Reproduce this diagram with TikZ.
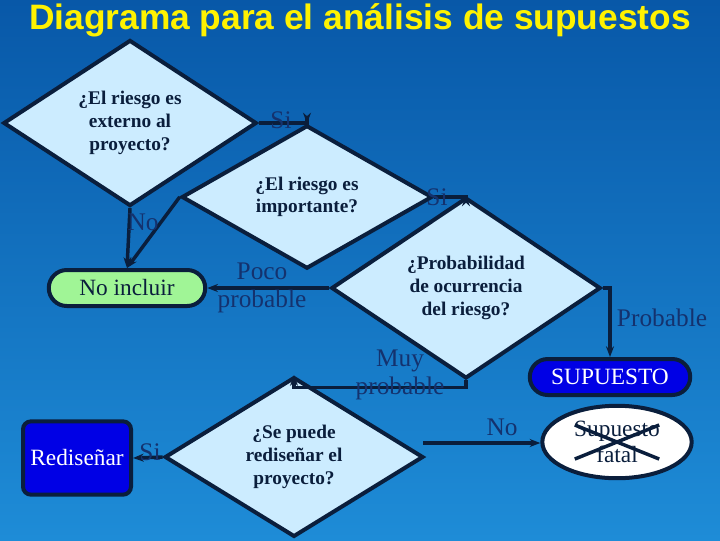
\documentclass[tikz,border=0pt]{standalone}
\usepackage{fontspec}
\setmainfont{Liberation Serif}
\newfontfamily\titlefont{Liberation Sans}
\usetikzlibrary{shapes.geometric,shapes.misc,positioning,calc,arrows.meta}
\definecolor{bgtop}{RGB}{8,88,168}
\definecolor{bgbot}{RGB}{30,140,215}
\definecolor{boxfill}{RGB}{204,236,255}
\definecolor{lbl}{RGB}{20,50,110}
\definecolor{navy}{RGB}{10,30,60}
\definecolor{greenfill}{RGB}{160,245,150}
\tikzset{
  ask/.style={diamond, draw=navy, line width=3pt, fill=boxfill, inner sep=0pt,
    align=center, font=\bfseries\fontsize{14.5}{17}\selectfont, text=navy},
  endnode/.style={rounded rectangle, draw=navy, line width=3pt, minimum height=27pt,
    font=\fontsize{17.5}{19}\selectfont},
  lab/.style={text=lbl, font=\fontsize{19}{21}\selectfont, align=center},
  conn/.style={draw=navy, line width=2.6pt, -{Stealth[length=8pt]}}
}
\begin{document}
\begin{tikzpicture}[x=0.75pt,y=-0.75pt]
\shade[top color=bgtop, bottom color=bgbot] (0,0) rectangle (720,540);
\useasboundingbox (0,0) rectangle (720,540);

\node[text=yellow, font=\titlefont\bfseries\fontsize{26.5}{28}\selectfont] (title) at (360,20)
  {Diagrama para el análisis de supuestos};

% preguntas
\node[ask, minimum width=190pt, minimum height=116pt] (ext) at (130,123)
  {¿El riesgo es\\externo al\\proyecto?};
\node[ask, minimum width=188pt, minimum height=80pt] (imp) at (307,197)
  {¿El riesgo es\\importante?};
\node[ask, minimum width=202pt, minimum height=118pt] (prob) at (466,288)
  {¿Probabilidad\\de ocurrencia\\del riesgo?};
\node[ask, minimum width=194pt, minimum height=115pt] (red) at (294,457)
  {¿Se puede\\rediseñar el\\proyecto?};

% resultados
\node[endnode, fill=greenfill, minimum width=124pt, text=navy] (noinc) at (127,288) {No incluir};
\node[endnode, fill=blue!90!black, minimum width=127pt, text=white] (sup) at (610,377) {SUPUESTO};
\node[draw=navy, line width=3pt, fill=blue!90!black, rounded corners=6pt, minimum width=81pt,
  minimum height=55pt, text=white, font=\fontsize{17.5}{19}\selectfont] (redis) at (77,458) {Rediseñar};
\node[ellipse, draw=navy, line width=3pt, fill=white, minimum width=112pt, minimum height=49pt,
  align=center, text=navy, font=\fontsize{17.5}{20}\selectfont] (fatal) at (617,442) {Supuesto\\fatal};
\draw[navy, line width=2.6pt] ($(fatal.north west)+(12,10)$) -- ($(fatal.south east)+(-12,-10)$);
\draw[navy, line width=2.6pt] ($(fatal.north east)+(-12,10)$) -- ($(fatal.south west)+(12,-10)$);

% conectores
\draw[conn] (ext.east) -| (imp.north);
\draw[conn] (imp.east) -| (prob.north);
\draw[conn] (ext.south) -- (noinc.north);
\draw[conn] (imp.west) -- (noinc.north);
\draw[conn] (prob.west) -- (noinc.east);
\draw[conn] (prob.east) -| (sup.north);
\draw[conn] (prob.south) |- ++(0,7) -| (red.north);
\draw[conn] (red.west) -- (redis.east);
\coordinate (rn) at ($(red.east)+(-2,-14)$);
\draw[conn] (rn) -- (fatal.west |- rn);

% etiquetas
\node[lab] (si1) at (281,120) {Si};
\node[lab] (no1) at (143,222) {No};
\node[lab] (si2) at (437,197) {Si};
\node[lab] (poco) at (262,288) {Poco\\probable};
\node[lab] (pr) at (662,318) {Probable};
\node[lab] (muy) at (400,375) {Muy\\probable};
\node[lab] (si3) at (150,452) {Si};
\node[lab] (no2) at (502,427) {No};
\end{tikzpicture}
\end{document}
